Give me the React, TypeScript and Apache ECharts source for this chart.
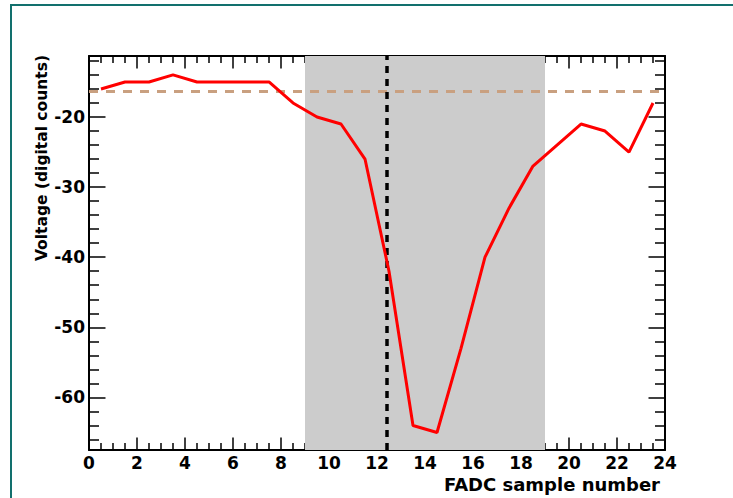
import React, { useEffect, useRef } from "react";
import * as echarts from "echarts";

// ---- data ----
const sampleCenters = [0.5, 1.5, 2.5, 3.5, 4.5, 5.5, 6.5, 7.5, 8.5, 9.5, 10.5, 11.5, 12.5, 13.5, 14.5, 15.5, 16.5, 17.5, 18.5, 19.5, 20.5, 21.5, 22.5, 23.5];
const voltages = [-16, -15, -15, -14, -15, -15, -15, -15, -18, -20, -21, -26, -42, -64, -65, -53, -40, -33, -27, -24, -21, -22, -25, -18];
const baseline = -16.3;
const gateStart = 9;
const gateEnd = 19;
const peakTime = 12.4;
const yMajorTicks = [-60, -50, -40, -30, -20];
const yMinorTicks = [-66, -64, -62, -58, -56, -54, -52, -48, -46, -44, -42, -38, -36, -34, -32, -28, -26, -24, -22, -18, -16, -14, -12];
const xTitle = "FADC sample number";
const yTitle = "Voltage (digital counts)";

const Y_MIN = -67.5;
const Y_MAX = -11.3;
const FONT = "DejaVu Sans";

export default function App() {
  const ref = useRef<HTMLDivElement>(null);
  useEffect(() => {
    if (!ref.current) return;
    const chart = echarts.init(ref.current, undefined, { renderer: "svg" });
    const tickStyle = { color: "#000", width: 1.5 };
    const yAxisBase = {
      type: "value",
      min: Y_MIN,
      max: Y_MAX,
      splitLine: { show: false },
    };
    const yMajor = (pos: string, showLabel: boolean) => ({
      ...yAxisBase,
      position: pos,
      axisLine: { show: true, lineStyle: { color: "#000", width: 2 } },
      axisTick: { show: true, inside: true, length: 16.5, lineStyle: tickStyle, customValues: yMajorTicks },
      axisLabel: {
        show: showLabel,
        customValues: yMajorTicks,
        color: "#000",
        fontFamily: FONT,
        fontWeight: "bold",
        fontSize: 17,
        margin: 4,
      },
    });
    const yMinor = (pos: string) => ({
      ...yAxisBase,
      position: pos,
      axisLine: { show: false },
      axisTick: { show: true, inside: true, length: 10, lineStyle: tickStyle, customValues: yMinorTicks },
      axisLabel: { show: false },
    });
    const xAxisBase = (pos: string, showLabel: boolean) => ({
      type: "value",
      position: pos,
      min: 0,
      max: 24,
      interval: 2,
      splitLine: { show: false },
      axisLine: { show: true, onZero: false, lineStyle: { color: "#000", width: 2 } },
      axisTick: { show: true, inside: true, length: 12.5, lineStyle: tickStyle },
      minorTick: { show: true, splitNumber: 4, length: 7, lineStyle: tickStyle },
      minorSplitLine: { show: false },
      axisLabel: {
        show: showLabel,
        color: "#000",
        fontFamily: FONT,
        fontWeight: "bold",
        fontSize: 17,
        margin: 4,
        lineHeight: 18,
      },
    });

    chart.setOption({
      animation: false,
      backgroundColor: "#ffffff",
      grid: { left: 89, right: 68, top: 56, bottom: 48, containLabel: false, outerBoundsMode: "none" },
      xAxis: [xAxisBase("bottom", true), xAxisBase("top", false)],
      yAxis: [yMajor("left", true), yMinor("left"), yMajor("right", false), yMinor("right")],
      series: [
        {
          type: "line",
          xAxisIndex: 0,
          yAxisIndex: 0,
          data: [],
          silent: true,
          z: 1,
          markArea: {
            silent: true,
            itemStyle: { color: "#cccccc" },
            data: [[{ xAxis: gateStart }, { xAxis: gateEnd }]],
          },
          markLine: {
            silent: true,
            symbol: "none",
            label: { show: false },
            data: [
              { yAxis: baseline, lineStyle: { color: "#c9a080", width: 3, type: [9, 8] } },
              { xAxis: peakTime, lineStyle: { color: "#000000", width: 3.5, type: [7, 6] } },
            ],
          },
        },
        {
          type: "line",
          xAxisIndex: 0,
          yAxisIndex: 0,
          z: 5,
          data: sampleCenters.map((x, i) => [x, voltages[i]]),
          showSymbol: false,
          symbol: "none",
          lineStyle: { color: "#ff0000", width: 3 },
        },
      ],
      graphic: [
        {
          type: "rect",
          shape: { x: 11, y: 5, width: 740, height: 520 },
          style: { fill: "none", stroke: "#12706d", lineWidth: 2 },
          silent: true,
        },
        {
          type: "text",
          x: 660,
          y: 484,
          style: {
            text: xTitle,
            fill: "#000",
            font: `bold 18px "${FONT}"`,
            lineHeight: 18,
            textAlign: "right",
            textVerticalAlign: "middle",
          },
        },
        {
          type: "text",
          x: 42,
          y: 55,
          rotation: Math.PI / 2,
          style: {
            text: yTitle,
            fill: "#000",
            font: `bold 15.5px "${FONT}"`,
            textAlign: "right",
            textVerticalAlign: "middle",
          },
        },
      ],
    });
    return () => chart.dispose();
  }, []);
  return (
    <div
      ref={ref}
      style={{ position: "fixed", left: 0, top: 0, width: 733, height: 498, background: "#fff" }}
    />
  );
}
